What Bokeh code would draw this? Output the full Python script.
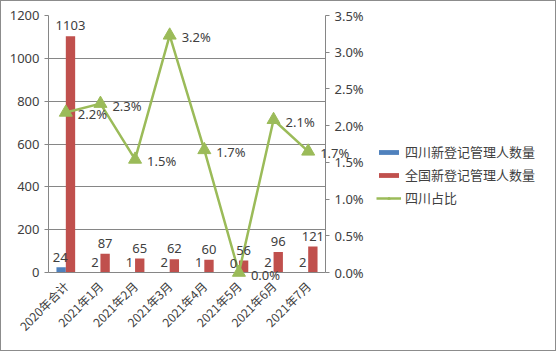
import math
from bokeh.plotting import figure
from bokeh.layouts import row
from bokeh.models import (ColumnDataSource, Range1d, LinearAxis, NumeralTickFormatter,
                          FactorRange, Legend, LegendItem, LabelSet, SingleIntervalTicker, FixedTicker)
from bokeh.core.properties import value
from bokeh.transform import dodge
from bokeh.embed import file_html
from bokeh.resources import INLINE

categories = ["2020年合计", "2021年1月", "2021年2月", "2021年3月", "2021年4月",
              "2021年5月", "2021年6月", "2021年7月"]
sichuan = [24, 2, 1, 2, 1, 0, 2, 2]
national = [1103, 87, 65, 62, 60, 56, 96, 121]
ratio = [0.0218, 0.0230, 0.0154, 0.0323, 0.0167, 0.0, 0.0208, 0.0165]

series_names = ["四川新登记管理人数量", "全国新登记管理人数量", "四川占比"]

BLUE, RED, GREEN = "#4F81BD", "#C0504D", "#9BBB59"

src = ColumnDataSource(dict(
    cat=categories, sc=sichuan, nat=national, ratio=ratio,
    sc_lbl=[str(v) for v in sichuan],
    nat_lbl=[str(v) for v in national],
    ratio_lbl=["%.1f%%" % (v * 100) for v in ratio],
))

FONT = "Noto Sans"
CJK = "Noto Sans CJK SC"
TXT = "#404040"

p = figure(width=369, height=349, x_range=FactorRange(*categories), y_range=Range1d(0, 1200),
           output_backend="svg", toolbar_location=None,
           min_border_left=47, min_border_right=45, min_border_top=14, min_border_bottom=78)
p.extra_y_ranges = {"pct": Range1d(0, 0.035)}
p.outline_line_color = None
p.background_fill_color = "white"
p.border_fill_color = "white"

b1 = p.vbar(x=dodge("cat", -0.135, range=p.x_range), top="sc", width=0.27, source=src,
            fill_color=BLUE, line_color=None)
b2 = p.vbar(x=dodge("cat", 0.135, range=p.x_range), top="nat", width=0.27, source=src,
            fill_color=RED, line_color=None)
ln = p.line(x="cat", y="ratio", source=src, y_range_name="pct", line_color=GREEN, line_width=2.5)
mk = p.scatter(x="cat", y="ratio", source=src, y_range_name="pct", marker="triangle", size=13,
               fill_color=GREEN, line_color=GREEN, level="overlay")

# axes
p.yaxis.ticker = SingleIntervalTicker(interval=200)
ax = p.yaxis[0]
ax.axis_line_color = "#868686"
ax.major_tick_line_color = "#868686"
ax.major_tick_out = 4
ax.major_tick_in = 0
ax.minor_tick_line_color = None
ax.major_label_text_font = FONT
ax.major_label_text_font_size = "13px"
ax.major_label_text_color = TXT

r_ax = LinearAxis(y_range_name="pct", formatter=NumeralTickFormatter(format="0.0%"),
                  ticker=FixedTicker(ticks=[0, 0.005, 0.01, 0.015, 0.02, 0.025, 0.03, 0.035]))
r_ax.axis_line_color = "#868686"
r_ax.major_tick_line_color = "#868686"
r_ax.major_tick_out = 4
r_ax.major_tick_in = 0
r_ax.minor_tick_line_color = None
r_ax.major_label_text_font = FONT
r_ax.major_label_text_font_size = "13px"
r_ax.major_label_text_color = TXT
p.add_layout(r_ax, "right")

xa = p.xaxis[0]
xa.axis_line_color = "#868686"
xa.major_tick_line_color = None
xa.major_label_orientation = math.pi / 4
xa.major_label_text_font = CJK
xa.major_label_text_font_size = "12px"
xa.major_label_text_color = TXT

p.xgrid.grid_line_color = None
p.ygrid.grid_line_color = "#868686"
p.ygrid.grid_line_width = 1

# data labels
lab_kw = dict(text_font=value(FONT), text_font_size="13px", text_color=TXT, text_align="center")
p.add_layout(LabelSet(x=dodge("cat", 0.135, range=p.x_range), y="nat", text="nat_lbl", source=src,
                      y_offset=6, text_baseline="bottom", **lab_kw))
p.add_layout(LabelSet(x=dodge("cat", -0.16, range=p.x_range), y="sc", text="sc_lbl", source=src,
                      y_offset=5, text_baseline="bottom", **lab_kw))
p.text(x="cat", y="ratio", text="ratio_lbl", source=src, y_range_name="pct",
       x_offset=12, y_offset=2, text_baseline="middle", text_font=value(FONT),
       text_font_size="13px", text_color=TXT, text_align="left", level="overlay")

# legend panel (separate figure to the right, legend glyphs mirror the series styles)
q = figure(width=185, height=349, output_backend="svg", toolbar_location=None,
           x_range=FactorRange(*categories), y_range=Range1d(0, 1200),
           x_axis_location=None, y_axis_location=None,
           min_border_left=0, min_border_right=0, min_border_top=0, min_border_bottom=0)
q.extra_y_ranges = {"pct": Range1d(0, 0.035)}
q.grid.grid_line_color = None
q.outline_line_color = None
q.background_fill_color = "white"
q.border_fill_color = "white"
d1 = q.vbar(x="cat", top="sc", width=0.27, source=src, fill_color=BLUE, line_color=None, visible=False)
d2 = q.vbar(x="cat", top="nat", width=0.27, source=src, fill_color=RED, line_color=None, visible=False)
d3 = q.line(x="cat", y="ratio", source=src, y_range_name="pct", line_color=GREEN, line_width=2.5,
            visible=False)
d4 = q.scatter(x="cat", y="ratio", source=src, y_range_name="pct", marker="triangle", size=9,
               fill_color=GREEN, line_color=GREEN, visible=False)

legend = Legend(items=[LegendItem(label=series_names[0], renderers=[d1]),
                       LegendItem(label=series_names[1], renderers=[d2]),
                       LegendItem(label=series_names[2], renderers=[d3, d4])],
                location=(6, 65))
legend.label_text_font = CJK
legend.label_text_font_size = "13px"
legend.label_text_color = TXT
legend.glyph_width = 25
legend.glyph_height = 6
legend.label_height = 14
legend.label_standoff = 4
legend.spacing = 4
legend.padding = 0
legend.margin = 0
legend.border_line_color = None
legend.background_fill_alpha = 0
legend.inactive_fill_alpha = 0
q.add_layout(legend, "center")

layout = row(p, q, styles={"border": "1px solid #8c8c8c"})

open("out.html", "w").write(file_html(layout, INLINE))
